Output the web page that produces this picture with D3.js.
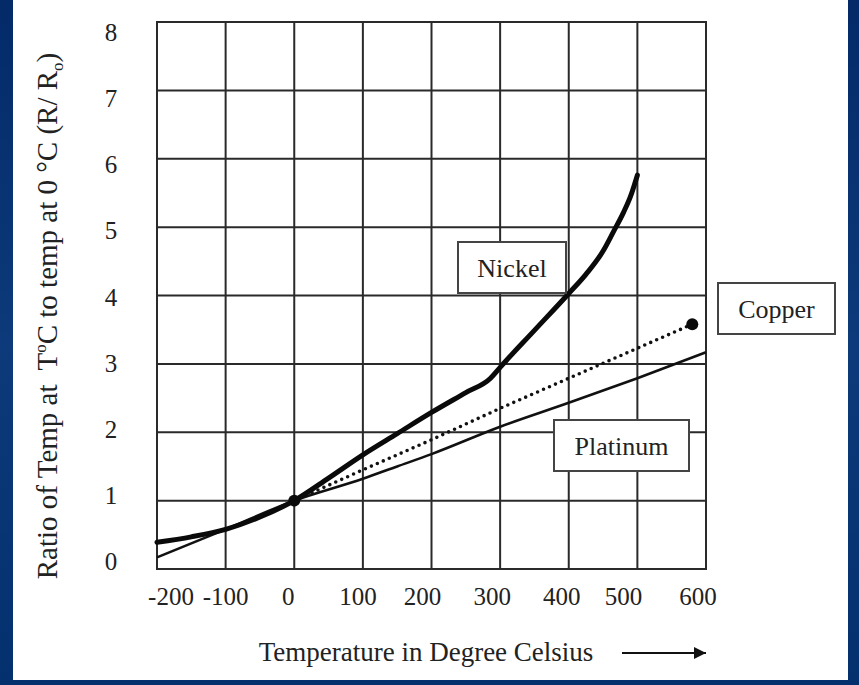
<!DOCTYPE html>
<html>
<head>
<meta charset="utf-8">
<script src="https://cdn.jsdelivr.net/npm/d3@7"></script>
<style>
  html, body { margin: 0; padding: 0; background: #fff; }
  svg { display: block; }
  text { font-family: "Liberation Serif", "Times New Roman", serif; fill: #222; white-space: pre; }
</style>
</head>
<body>
<svg id="chart" width="859" height="685"></svg>
<script>
// ---- data ----
const xTicks = [-200, -100, 0, 100, 200, 300, 400, 500, 600];
const yTicks = [0, 1, 2, 3, 4, 5, 6, 7, 8];

// Temperature (°C) and resistance ratio R/Ro for each metal
const nickelT = [-200, -150, -100, -50, 0, 50, 100, 150, 200, 250, 286, 300, 350, 400, 425, 450, 465, 480, 490, 500];
const nickelR = [0.39, 0.47, 0.58, 0.76, 1.0, 1.33, 1.67, 1.98, 2.29, 2.58, 2.79, 2.95, 3.49, 4.03, 4.31, 4.65, 4.93, 5.22, 5.45, 5.76];

const platinumT = [-200, -100, 0, 100, 150, 200, 300, 400, 500, 600];
const platinumR = [0.17, 0.58, 1.0, 1.32, 1.50, 1.68, 2.08, 2.43, 2.79, 3.17];

const copperT = [0, 100, 200, 300, 580];
const copperR = [1.0, 1.45, 1.89, 2.35, 3.58];

const seriesNames = ["Nickel", "Copper", "Platinum"];
const xTitle = "Temperature in Degree Celsius";

// ---- layout ----
const svg = d3.select("#chart");
const W = 859, H = 685;
const plot = { left: 157, right: 706, top: 22, bottom: 569 };

const x = d3.scaleLinear().domain([-200, 600]).range([plot.left, plot.right]);
const y = d3.scaleLinear().domain([0, 8]).range([plot.bottom, plot.top]);
// tick numbers sit on a slightly tighter spacing than the grid
const yLab = d3.scaleLinear().domain([0, 8]).range([562, 33]);
const xLabNudge = { "-200": 14, "-100": 0, "0": -6, "100": -5, "200": -9, "300": -8, "400": -7, "500": -14, "600": -8 };

// ---- frame ----
const defs = svg.append("defs");
const grad = defs.append("linearGradient").attr("id", "frame")
  .attr("x1", 0).attr("y1", 0).attr("x2", 0).attr("y2", 1);
grad.append("stop").attr("offset", 0).attr("stop-color", "#042a68");
grad.append("stop").attr("offset", 0.5).attr("stop-color", "#0c3a7a");
grad.append("stop").attr("offset", 1).attr("stop-color", "#04306e");

svg.append("rect").attr("width", W).attr("height", H).attr("fill", "url(#frame)");
svg.append("rect").attr("x", 13).attr("y", 0).attr("width", 835).attr("height", 680).attr("fill", "#fff");

// ---- grid ----
const grid = svg.append("g").attr("stroke", "#2a2a2a").attr("stroke-width", 2);
grid.selectAll("line.v").data(xTicks).join("line")
  .attr("x1", d => x(d)).attr("x2", d => x(d))
  .attr("y1", plot.top).attr("y2", plot.bottom);
grid.selectAll("line.h").data(yTicks).join("line")
  .attr("y1", d => y(d)).attr("y2", d => y(d))
  .attr("x1", plot.left - 1).attr("x2", plot.right + 1);

// ---- tick labels ----
svg.append("g").selectAll("text").data(yTicks).join("text")
  .attr("x", 111).attr("y", d => yLab(d) + 8)
  .attr("text-anchor", "middle").attr("font-size", 25)
  .text(d => d);

svg.append("g").selectAll("text").data(xTicks).join("text")
  .attr("x", d => x(d) + xLabNudge[d]).attr("y", 605)
  .attr("text-anchor", "middle").attr("font-size", 25)
  .text(d => d);

// ---- axis titles ----
svg.append("text")
  .attr("x", 426).attr("y", 661)
  .attr("text-anchor", "middle").attr("font-size", 27)
  .text(xTitle);

defs.append("marker").attr("id", "arrow")
  .attr("viewBox", "0 0 10 10").attr("refX", 10).attr("refY", 5)
  .attr("markerWidth", 16).attr("markerHeight", 12).attr("markerUnits", "userSpaceOnUse")
  .attr("orient", "auto")
  .append("path").attr("d", "M0,0 L10,5 L0,10 Z").attr("fill", "#111");

svg.append("line")
  .attr("x1", 622).attr("x2", 706).attr("y1", 653).attr("y2", 653)
  .attr("stroke", "#111").attr("stroke-width", 2)
  .attr("marker-end", "url(#arrow)");

const yt = svg.append("text")
  .attr("transform", "translate(57,316) rotate(-90)")
  .attr("text-anchor", "middle").attr("font-size", 29);
yt.append("tspan").text("Ratio of Temp at  T");
yt.append("tspan").attr("font-size", 17).attr("dy", -11).text("o");
yt.append("tspan").attr("dy", 11).text("C to temp at 0 °C (R/ R");
yt.append("tspan").attr("font-size", 17).attr("dy", 6).text("o");
yt.append("tspan").attr("dy", -6).text(")");

// ---- curves ----
const line = d3.line().x(d => x(d[0])).y(d => y(d[1]));

svg.append("path")
  .datum(platinumT.map((t, i) => [t, platinumR[i]]))
  .attr("d", line.curve(d3.curveMonotoneX))
  .attr("fill", "none").attr("stroke", "#111").attr("stroke-width", 2.6);

svg.append("path")
  .datum(copperT.map((t, i) => [t, copperR[i]]))
  .attr("d", line.curve(d3.curveLinear))
  .attr("fill", "none").attr("stroke", "#111").attr("stroke-width", 3.6)
  .attr("stroke-linecap", "round").attr("stroke-dasharray", "0 6.5");

svg.append("path")
  .datum(nickelT.map((t, i) => [t, nickelR[i]]))
  .attr("d", line.curve(d3.curveMonotoneX))
  .attr("fill", "none").attr("stroke", "#0a0a0a").attr("stroke-width", 5)
  .attr("stroke-linecap", "round").attr("stroke-linejoin", "round");

// copper end points
svg.selectAll("circle.cu").data([[copperT[0], copperR[0]], [copperT[copperT.length - 1], copperR[copperR.length - 1]]])
  .join("circle")
  .attr("cx", d => x(d[0])).attr("cy", d => y(d[1])).attr("r", 6)
  .attr("fill", "#0a0a0a");

// ---- labels in boxes ----
const boxes = [
  { name: seriesNames[0], x0: 458, y0: 242, w: 108, h: 51 },
  { name: seriesNames[1], x0: 718, y0: 283, w: 117, h: 51 },
  { name: seriesNames[2], x0: 554, y0: 420, w: 135, h: 51 }
];
const bg = svg.append("g").selectAll("g").data(boxes).join("g");
bg.append("rect")
  .attr("x", d => d.x0).attr("y", d => d.y0).attr("width", d => d.w).attr("height", d => d.h)
  .attr("fill", "#fff").attr("stroke", "#444").attr("stroke-width", 2);
bg.append("text")
  .attr("x", d => d.x0 + d.w / 2).attr("y", d => d.y0 + d.h / 2 + 9)
  .attr("text-anchor", "middle").attr("font-size", 26)
  .text(d => d.name);
</script>
</body>
</html>
